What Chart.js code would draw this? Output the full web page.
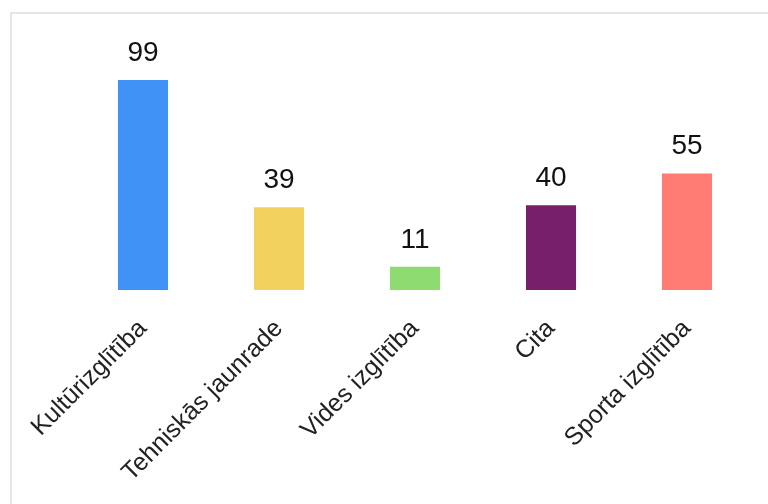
<!DOCTYPE html>
<html>
<head>
<meta charset="utf-8">
<script src="https://cdn.jsdelivr.net/npm/chart.js@4/dist/chart.umd.min.js"></script>
<style>
  html, body { margin: 0; padding: 0; background: #fff; overflow: hidden; }
  #frame { position: absolute; left: 10px; top: 12px; width: 820px; height: 560px; border: 2px solid #e6e6e6; }
  #wrap { position: absolute; left: 0; top: 0; width: 768px; height: 504px; }
</style>
</head>
<body>
<div id="frame"></div>
<div id="wrap"><canvas id="myChart"></canvas></div>
<script>
const categories = ['Kultūrizglītība', 'Tehniskās jaunrade', 'Vides izglītība', 'Cita', 'Sporta izglītība'];
const values = [99, 39, 11, 40, 55];
const barColors = ['#4192f6', '#f2d15e', '#8edb70', '#781f6b', '#ff7c74'];

// skaitļi virs stabiņiem
const valueLabels = {
    id: 'valueLabels',
    afterDatasetsDraw(chart) {
        const ctx = chart.ctx;
        const meta = chart.getDatasetMeta(0);
        ctx.save();
        ctx.font = '28px "Liberation Sans", Arial, sans-serif';
        ctx.fillStyle = '#111';
        ctx.textAlign = 'center';
        ctx.textBaseline = 'alphabetic';
        meta.data.forEach((bar, i) => {
            ctx.fillText(values[i], bar.x, bar.y - 19);
        });
        ctx.restore();
    }
};

const ctx = document.getElementById('myChart').getContext('2d');
const chart = new Chart(ctx, {
    type: 'bar',
    data: {
        labels: categories,
        datasets: [{
            data: values,
            backgroundColor: barColors,
            borderWidth: 0,
            categoryPercentage: 0.8,
            barPercentage: 0.46
        }]
    },
    options: {
        responsive: true,
        maintainAspectRatio: false,
        animation: false,
        layout: { padding: { left: 75, right: 13, top: 78, bottom: 0 } },
        plugins: {
            legend: { display: false },
            tooltip: { enabled: false }
        },
        scales: {
            y: {
                display: false,
                min: 0,
                max: 100
            },
            x: {
                grid: { display: false, drawTicks: false },
                border: { display: false },
                ticks: {
                    minRotation: 45,
                    maxRotation: 45,
                    padding: 24,
                    color: '#222',
                    font: { size: 25, family: '"Liberation Sans", Arial, sans-serif' }
                },
                afterFit(scale) { scale.height = 214; }
            }
        }
    },
    plugins: [valueLabels]
});
</script>
</body>
</html>
